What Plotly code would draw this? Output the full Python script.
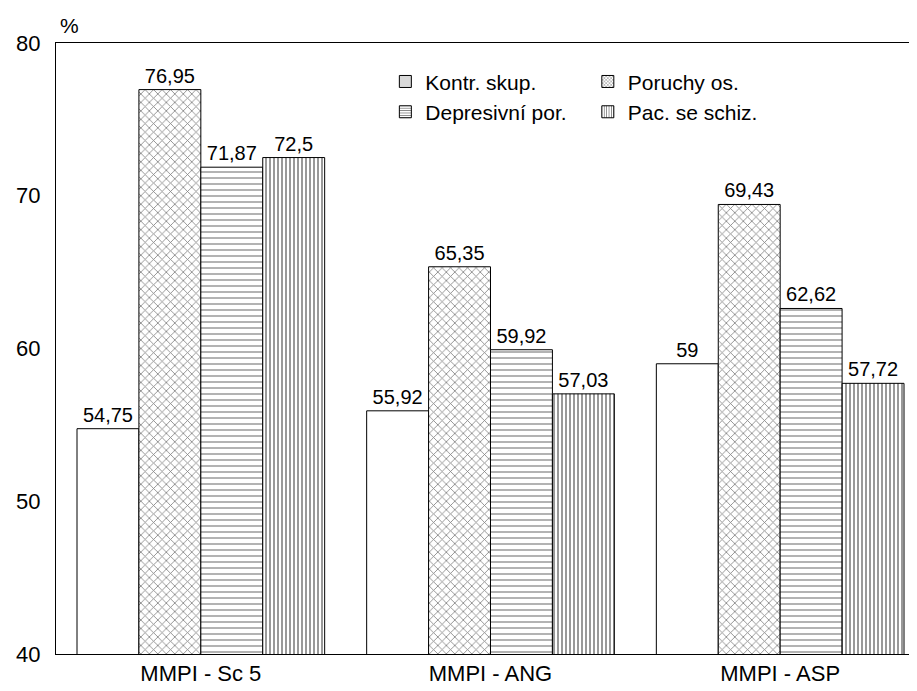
import plotly.graph_objects as go

categories = ["MMPI - Sc 5", "MMPI - ANG", "MMPI - ASP"]
series_names = ["Kontr. skup.", "Poruchy os.", "Depresivní por.", "Pac. se schiz."]
kontr = [54.75, 55.92, 59.0]
poruchy = [76.95, 65.35, 69.43]
depres = [71.87, 59.92, 62.62]
schiz = [72.5, 57.03, 57.72]
y_ticks = [40, 50, 60, 70, 80]

values = [kontr, poruchy, depres, schiz]
shapes = ["", "x", "-", "|"]
sizes = [8, 6, 6, 4]
solid = [0.3, 0.25, 0.2, 0.4]
legend_fill = ["#d9d9d9", "white", "white", "white"]
legends = ["legend", "legend2", "legend", "legend2"]

def fmt(v):
    s = ("%.2f" % v).rstrip("0").rstrip(".")
    return s.replace(".", ",")

fig = go.Figure()
for i, (name, vals) in enumerate(zip(series_names, values)):
    fig.add_trace(go.Bar(
        x=categories, y=vals, name=name, showlegend=False,
        text=[fmt(v) for v in vals], textposition="outside",
        textfont=dict(size=20, color="black"),
        constraintext="none", cliponaxis=False,
        marker=dict(color="white", line=dict(color="black", width=1),
                    pattern=dict(shape=shapes[i], size=sizes[i], solidity=solid[i],
                                 fgcolor="black", bgcolor="white")),
    ))
# legend entries (on hidden axes so they do not take bar slots)
for i, name in enumerate(series_names):
    fig.add_trace(go.Bar(
        x=[0], y=[None], name=name, legend=legends[i], xaxis="x2", yaxis="y2",
        marker=dict(color=legend_fill[i], line=dict(color="black", width=1),
                    pattern=dict(shape=shapes[i], size=3 if i else 8, solidity=0.35,
                                 fgcolor="black", bgcolor=legend_fill[i])),
    ))

fig.update_layout(
    width=917, height=691,
    margin=dict(l=48, r=0, t=35, b=45),
    paper_bgcolor="white", plot_bgcolor="white",
    font=dict(family="Liberation Sans, Arial, sans-serif", color="black", size=22),
    barmode="group", bargap=0.145, bargroupgap=0,
    legend=dict(x=0.379, y=0.97, xanchor="left", yanchor="top",
                bgcolor="rgba(0,0,0,0)", font=dict(size=21), itemwidth=30,
                tracegroupgap=0),
    legend2=dict(x=0.612, y=0.97, xanchor="left", yanchor="top",
                 bgcolor="rgba(0,0,0,0)", font=dict(size=21), itemwidth=30,
                 tracegroupgap=0),
    xaxis=dict(range=[-0.5, 2.5], showline=True, linecolor="black", linewidth=1,
               mirror=True, ticks="", showgrid=False, tickfont=dict(size=22)),
    yaxis=dict(range=[40, 80], tickvals=y_ticks, showline=True, linecolor="black",
               linewidth=1, ticks="", showgrid=False, zeroline=False,
               tickfont=dict(size=22), ticklabelstandoff=10),
    xaxis2=dict(overlaying="x", visible=False, range=[10, 11]),
    yaxis2=dict(overlaying="y", visible=False, range=[0, 1]),
    annotations=[dict(text="%", x=0, y=1, xref="paper", yref="paper",
                      xanchor="left", yanchor="bottom", xshift=2, yshift=4,
                      showarrow=False, font=dict(size=21))],
)
fig.write_html("out.html")
